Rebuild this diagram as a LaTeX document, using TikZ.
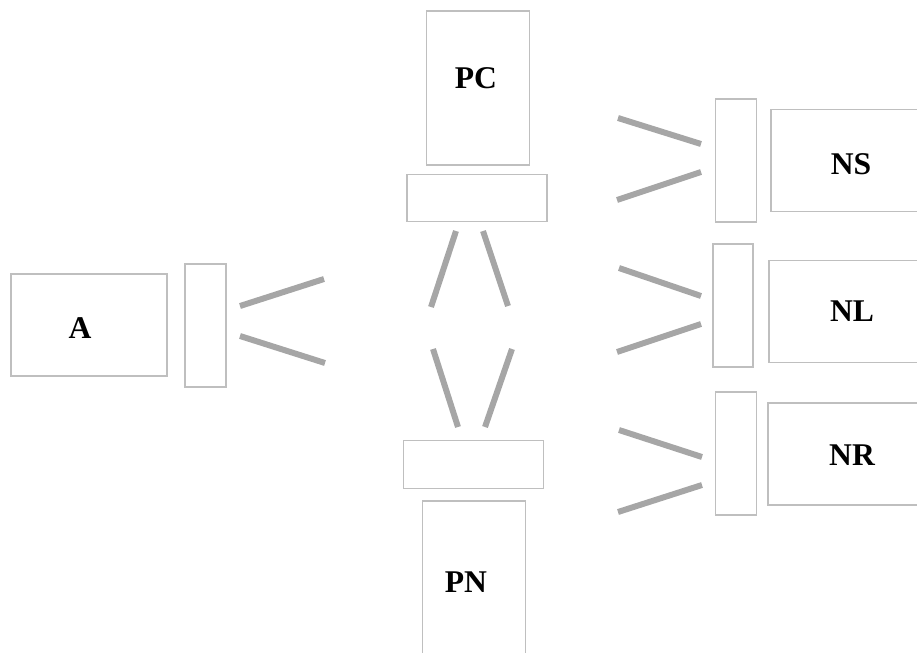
\documentclass[tikz,border=0pt]{standalone}
\usepackage{fontspec}
\setmainfont{Liberation Serif}
\usetikzlibrary{positioning}

\begin{document}
\begin{tikzpicture}[x=0.02cm, y=-0.02cm,
		box/.style={rectangle, draw=black!25, line width=0.6pt, inner sep=0pt},
		wide/.style={box, minimum width=3.12cm, minimum height=2.04cm},
		tall/.style={box, minimum width=2.06cm, minimum height=3.08cm},
		plate/.style={box, minimum width=0.82cm, minimum height=2.46cm},
		flat/.style={box, minimum width=2.8cm, minimum height=0.95cm},
		lbl/.style={font=\fontsize{18}{20}\selectfont\bfseries, inner sep=0pt},
		bar/.style={draw=black!35, line width=3.4pt}]
		\useasboundingbox (0,0) rectangle (917,653);
		\clip (0,0) rectangle (917,653);

		\node[wide] (A) at (89,325) {};
		\node[lbl] (At) at (80,328) {A};
		\node[plate] (Ap) at (205.5,325.5) {};

		\node[tall] (PC) at (478,88) {};
		\node[lbl] (PCt) at (476,78) {PC};
		\node[flat] (PCp) at (477,198) {};

		\node[flat] (PNp) at (473.5,464.5) {};
		\node[tall] (PN) at (474,578) {};
		\node[lbl] (PNt) at (466,582) {PN};

		\node[plate] (NSp) at (736,160.5) {};
		\node[wide] (NS) at (849,160.5) {};
		\node[lbl] (NSt) at (851,164) {NS};

		\node[plate, minimum width=0.8cm] (NLp) at (733,305.5) {};
		\node[wide] (NL) at (847,311.5) {};
		\node[lbl] (NLt) at (852,311) {NL};

		\node[plate] (NRp) at (736,453.5) {};
		\node[wide] (NR) at (846,454) {};
		\node[lbl] (NRt) at (852,455) {NR};

		\draw[bar] (240,306) -- (324,279);
		\draw[bar] (240,336) -- (325,363);

		\draw[bar] (456,231) -- (431,307);
		\draw[bar] (483,231) -- (508,306);
		\draw[bar] (433,349) -- (458,427);
		\draw[bar] (512,349) -- (485,427);

		\draw[bar] (618,118) -- (701,144);
		\draw[bar] (617,200) -- (701,172);
		\draw[bar] (619,268) -- (701,296);
		\draw[bar] (617,352) -- (701,324);
		\draw[bar] (619,430) -- (702,457);
		\draw[bar] (618,512) -- (702,485);
	\end{tikzpicture}
\end{document}
